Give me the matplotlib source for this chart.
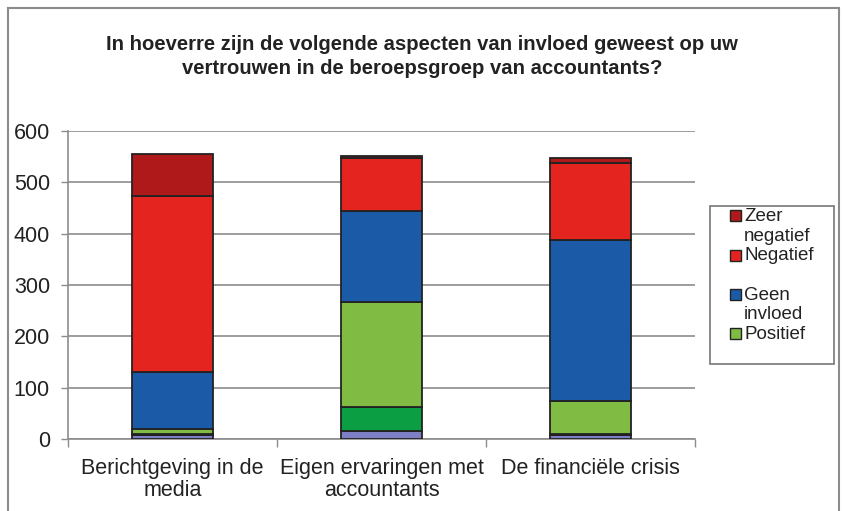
import matplotlib
matplotlib.use("Agg")
import matplotlib.pyplot as plt
from matplotlib.patches import Rectangle
from matplotlib.lines import Line2D
import numpy as np

# gegevens
categorieen = ["Berichtgeving in de\nmedia", "Eigen ervaringen met\naccountants", "De financiële crisis"]
reeks_namen = ["Weet niet", "Zeer positief", "Positief", "Geen\ninvloed", "Negatief", "Zeer\nnegatief"]
weet_niet = [8, 16, 7]
zeer_positief = [2, 47, 2]
positief = [9, 204, 65]
geen_invloed = [112, 178, 314]
negatief = [342, 102, 150]
zeer_negatief = [83, 4, 9]
y_ticks = [0, 100, 200, 300, 400, 500, 600]

reeksen = [weet_niet, zeer_positief, positief, geen_invloed, negatief, zeer_negatief]
kleuren = ["#7f7fc6", "#0b9e42", "#80bc44", "#1a5aa6", "#e3241f", "#b0191a"]

plt.rcParams['font.family'] = ['Liberation Sans', 'DejaVu Sans']

W, H = 844, 511
fig = plt.figure(figsize=(W / 100, H / 100), dpi=100)
ax = fig.add_axes([68/W, 1-439/H, 627/W, 308/H])

x = np.arange(len(categorieen))
onder = np.zeros(len(categorieen))
for waarden, kleur, naam in zip(reeksen, kleuren, reeks_namen):
    ax.bar(x, waarden, 0.39, bottom=onder, color=kleur, edgecolor="#222222",
           linewidth=1.3, label=naam, zorder=3)
    onder = onder + np.array(waarden)

ax.set_xlim(-0.5, 2.5)
ax.set_ylim(0, 600)
ax.set_yticks(y_ticks)
ax.yaxis.grid(True, color="#8c8c8c", linewidth=1.2, zorder=0)
ax.tick_params(axis="y", length=5, width=1, color="#8c8c8c", pad=8, labelsize=15.5,
               labelcolor="#222222")
ax.tick_params(axis="x", length=0, pad=14, labelsize=15.5)
ax.set_xticks(x)
ax.set_xticklabels(categorieen, color="#222222", linespacing=1.05)
ax.set_xticks([-0.5, 0.5, 1.5, 2.5], minor=True)
ax.tick_params(axis="x", which="minor", length=6, width=1, color="#8c8c8c")
for s in ["top", "right"]:
    ax.spines[s].set_visible(False)
for s in ["left", "bottom"]:
    ax.spines[s].set_color("#8c8c8c")
    ax.spines[s].set_linewidth(1.2)

# legenda, zoals in Excel: tekst hangt onder het symbool
fig.add_artist(Rectangle((710/W, 1-364/H), 124/W, 158/H, transform=fig.transFigure,
                         facecolor="white", edgecolor="#777777", linewidth=1.2))
idx = [5, 4, 3, 2]
for k, i in enumerate(idx):
    yc = 216 + k * 39.3
    fig.add_artist(Rectangle((730/W, 1-(yc+5.5)/H), 11/W, 11/H, transform=fig.transFigure,
                             facecolor=kleuren[i], edgecolor="#222222", linewidth=1))
    fig.text(744/W, 1-(yc-8)/H, reeks_namen[i], ha="left", va="top", fontsize=13.5,
             linespacing=1.2, color="#222222")

titel_font = ['Liberation Sans Narrow', 'Liberation Sans']
fig.text(422/W, 1-44/H, "In hoeverre zijn de volgende aspecten van invloed geweest op uw",
         ha="center", va="center", fontsize=14.6, fontweight="bold", color="#222222",
         family=titel_font)
fig.text(422/W, 1-69/H, "vertrouwen in de beroepsgroep van accountants?",
         ha="center", va="center", fontsize=14.6, fontweight="bold", color="#222222",
         family=titel_font)

# kader rond de grafiek
kc = "#8c8c8c"
fig.add_artist(Line2D([8/W, 8/W], [0, 1-8/H], color=kc, linewidth=1.5))
fig.add_artist(Line2D([8/W, 839/W], [1-8/H, 1-8/H], color=kc, linewidth=1.5))
fig.add_artist(Line2D([839/W, 839/W], [0, 1-8/H], color=kc, linewidth=1.5))

fig.savefig("out.png", dpi=100)
